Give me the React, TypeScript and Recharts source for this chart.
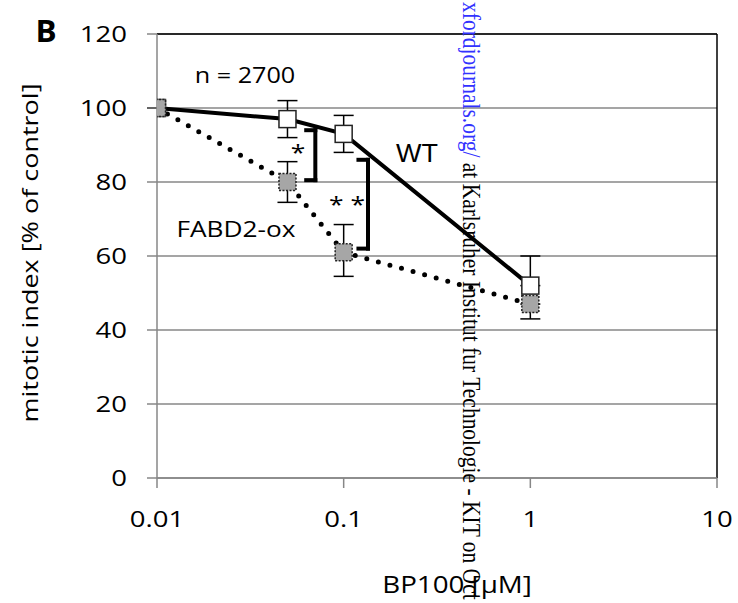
import React from 'react';
import { LineChart, Line, XAxis, YAxis, CartesianGrid, ErrorBar, ReferenceLine } from 'recharts';

const doses = [0.01, 0.05, 0.1, 1];
const wtMean = [100, 97, 93, 52];
const wtErr: [number, number][] = [[0, 0], [5, 5], [5, 5], [0, 8]];
const oxMean = [100, 80, 61, 47];
const oxErr: [number, number][] = [[0, 0], [5.5, 5.5], [6.5, 7.5], [4, 0]];
const xTicks = [0.01, 0.1, 1, 10];
const yTicks = [0, 20, 40, 60, 80, 100, 120];

// significance brackets: vertical bar at x, hooks reaching back to hook
const brackets = [
  { x: 0.0705, hook: 0.063, top: 94, bottom: 80.5 },
  { x: 0.135, hook: 0.12, top: 86, bottom: 62 },
];

const wtData = doses.map((x, i) => ({ x, y: wtMean[i], err: wtErr[i] }));
const oxData = doses.map((x, i) => ({ x, y: oxMean[i], err: oxErr[i] }));

const FONT = '"Open Sans", sans-serif';
const GRAY = '#878787';

function YTick({ x, y, payload }: any) {
  return (
    <text transform={`translate(${x},${y}) scale(1.28,1)`} textAnchor="end" dy="0.355em"
      fontSize={21.5} fontFamily={FONT} fill="#000">{payload.value}</text>
  );
}

function XTick({ x, y, payload }: any) {
  return (
    <text transform={`translate(${x},${y}) scale(1.28,1)`} textAnchor="middle" dy="0.71em"
      fontSize={21.5} fontFamily={FONT} fill="#000">{String(payload.value)}</text>
  );
}

const squareDot = (fill: string, dash?: string) => (props: any) => {
  const { cx, cy, index } = props;
  if (cx == null || cy == null) return <g key={`e-${index}`} />;
  return (
    <rect key={`d-${index}`} x={cx - 8.5} y={cy - 8.5} width={17} height={17}
      fill={fill} stroke="#222" strokeWidth={1.5} strokeDasharray={dash} />
  );
};

function Overlay() {
  const t = { fontFamily: FONT, fill: '#000' };
  return (
    <svg width={738} height={603} style={{ position: 'absolute', left: 0, top: 0, pointerEvents: 'none' }}>
      <text {...t} transform="translate(46,42) scale(1.05,1)" textAnchor="middle" fontSize={30} fontWeight="bold">B</text>
      <text {...t} transform="translate(245,83) scale(1.2,1)" textAnchor="middle" fontSize={21}>n = 2700</text>
      <text {...t} transform="translate(417,162) scale(1.08,1)" textAnchor="middle" fontSize={25}
        fontFamily='"Liberation Sans", Arial, sans-serif'>WT</text>
      <text {...t} transform="translate(236,237) scale(1.22,1)" textAnchor="middle" fontSize={21.5}>FABD2-ox</text>
      <text {...t} transform="translate(298,160) scale(1.2,1)" textAnchor="middle" fontSize={22}>*</text>
      <text {...t} transform="translate(347,212) scale(1.2,1)" textAnchor="middle" fontSize={22}>* *</text>
      <text {...t} transform="translate(457,593) scale(1.18,1)" textAnchor="middle" fontSize={23.5}>BP100 [µM]</text>
      <text {...t} transform="translate(38,253) rotate(-90) scale(1.2,1)" textAnchor="middle" fontSize={22.5}>
        mitotic index [% of control]
      </text>
      <text transform="translate(463,2) rotate(90) scale(1,1.2)" fontSize={21.5}
        fontFamily='"Liberation Serif", "Times New Roman", serif'>
        <tspan fill="#3232ff">xfordjournals.org/</tspan>
        <tspan fill="#000"> at Karlsruher Institut fur Technologie - KIT on Oct</tspan>
      </text>
    </svg>
  );
}

export default function App() {
  return (
    <div style={{ position: 'absolute', left: 0, top: 0, width: 738, height: 603, background: '#fff' }}>
      <LineChart width={738} height={603} margin={{ top: 34, right: 21, left: 97, bottom: 95 }}>
        <CartesianGrid vertical={false} stroke={GRAY} strokeWidth={1.5} />
        <XAxis dataKey="x" type="number" scale="log" domain={[0.01, 10]} ticks={xTicks} allowDataOverflow
          height={30} tickSize={10} tickMargin={24} tick={<XTick />}
          axisLine={{ stroke: GRAY, strokeWidth: 1.5 }} tickLine={{ stroke: GRAY, strokeWidth: 1.5 }} />
        <YAxis type="number" domain={[0, 120]} ticks={yTicks} width={60} tickSize={10} tickMargin={20}
          tick={<YTick />} axisLine={{ stroke: GRAY, strokeWidth: 1.5 }} tickLine={{ stroke: GRAY, strokeWidth: 1.5 }} />
        <ReferenceLine y={120} stroke="#000" strokeWidth={1.5} />
        <ReferenceLine x={10} stroke="#000" strokeWidth={1.5} />
        {brackets.map((b, i) => [
          <ReferenceLine key={`v${i}`} segment={[{ x: b.x, y: b.top }, { x: b.x, y: b.bottom }]}
            stroke="#000" strokeWidth={4} strokeLinecap="square" />,
          <ReferenceLine key={`t${i}`} segment={[{ x: b.hook, y: b.top }, { x: b.x, y: b.top }]}
            stroke="#000" strokeWidth={4} strokeLinecap="square" />,
          <ReferenceLine key={`b${i}`} segment={[{ x: b.hook, y: b.bottom }, { x: b.x, y: b.bottom }]}
            stroke="#000" strokeWidth={4} strokeLinecap="square" />,
        ])}
        <Line data={wtData} dataKey="y" type="linear" stroke="#000" strokeWidth={4}
          dot={squareDot('#fff')} activeDot={false} isAnimationActive={false}>
          <ErrorBar dataKey="err" direction="y" width={10} stroke="#000" strokeWidth={1.5} />
        </Line>
        <Line data={oxData} dataKey="y" type="linear" stroke="#000" strokeWidth={5}
          strokeDasharray="0 12" strokeLinecap="round" dot={squareDot('#a6a6a6', '2 1.5')}
          activeDot={false} isAnimationActive={false}>
          <ErrorBar dataKey="err" direction="y" width={10} stroke="#000" strokeWidth={1.5} />
        </Line>
      </LineChart>
      <Overlay />
    </div>
  );
}
